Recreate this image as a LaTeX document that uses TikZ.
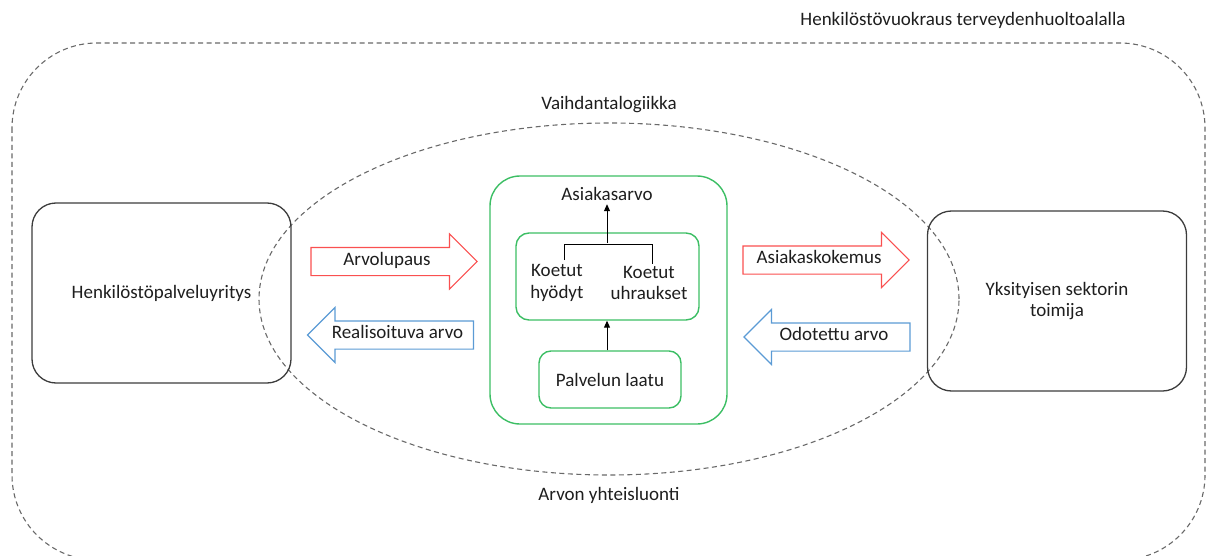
\documentclass[tikz,border=0pt]{standalone}
\usepackage{fontspec}
\setmainfont{Carlito}
\usetikzlibrary{positioning}
\usetikzlibrary{shapes.geometric}
\usetikzlibrary{shapes.arrows}
\usetikzlibrary{arrows.meta}
\definecolor{dashgray}{RGB}{105,105,105}
\definecolor{boxgray}{RGB}{60,60,60}
\definecolor{valgreen}{RGB}{60,190,100}
\definecolor{arrred}{RGB}{250,80,80}
\definecolor{arrblue}{RGB}{91,155,213}
\definecolor{txt}{RGB}{30,30,30}

\begin{document}
\begin{tikzpicture}[
    x=1pt,y=-1pt,
    font=\fontsize{19}{21.5}\selectfont,
    text=txt,
    node distance=10pt,
    party/.style={rectangle,rounded corners=24pt,draw=boxgray,line width=1.3pt,minimum width=259pt,minimum height=180pt,align=center},
    valuebox/.style={rectangle,draw=valgreen,line width=1.4pt},
    dashline/.style={draw=dashgray,line width=1.1pt,dash pattern=on 5pt off 3.5pt},
    blockarr/.style={single arrow,line width=1.1pt,fill=white,text height=11pt,text depth=3.5pt,inner ysep=6.25pt,inner xsep=0pt,single arrow head extend=13.5pt,minimum height=166pt},
    redarr/.style={blockarr,draw=arrred},
    bluearr/.style={blockarr,draw=arrblue,shape border rotate=180},
    arr/.style={line width=1pt,-{Triangle[length=7pt,width=6pt]}}
    ]
    \useasboundingbox (0,0) rectangle (1206,556);
    \begin{scope}
      \clip (0,0) rectangle (1206,556);
      \draw [dashline,rounded corners=85pt] (12,43) rectangle (1205,560);
    \end{scope}
    \node (hvt) at (963,20) {Henkilöstövuokraus terveydenhuoltoalalla};

    \node (vaihdanta) [ellipse,dashline,minimum width=700pt,minimum height=352pt,inner sep=0pt,outer sep=0pt] at (609,299) {};
    \node (vlogiikka) [above=7pt of vaihdanta.north] {Vaihdantalogiikka};
    \node (yhteis) [below=9pt of vaihdanta.south] {Arvon yhteisluonti};

    \node (yritys) [party] at (161.5,293) {Henkilöstöpalveluyritys};
    \node (toimija) [party] at (1057,301) {Yksityisen sektorin\\toimija};

    \node (arvo) [valuebox,rounded corners=30pt,minimum width=237pt,minimum height=248pt] at (608.5,300) {};
    \node (asiakasarvo) at (607,194) {Asiakasarvo};
    \node (koetut) [valuebox,rounded corners=13pt,minimum width=183pt,minimum height=87pt] at (607.5,276.5) {};
    \node (hyodyt) [align=center] at (557,283) {Koetut\\hyödyt};
    \node (uhraukset) [align=center] at (649,283) {Koetut\\uhraukset};
    \node (laatu) [valuebox,rounded corners=12pt,minimum width=142pt,minimum height=57pt] at (610,379.5) {Palvelun laatu};

    \draw [line width=1pt] (hyodyt.north) ++(7,-1) coordinate (bl) -- ++(0,-16) -| ([xshift=3pt,yshift=-1pt]uhraukset.north);
    \coordinate (bmid) at (607,243);
    \draw [arr] (bmid) -- (asiakasarvo.south);
    \draw [arr] (laatu.north -| bmid) -- (koetut.south -| bmid);

    \node (lupaus) [redarr] at (387,261.5) {Arvolupaus};
    \node (realis) [bluearr] at (397.5,335) {Realisoituva arvo};
    \node (kokemus) [redarr] at (819,260) {Asiakaskokemus};
    \node (odotettu) [bluearr] at (834,337) {Odotettu arvo};
  \end{tikzpicture}
\end{document}
